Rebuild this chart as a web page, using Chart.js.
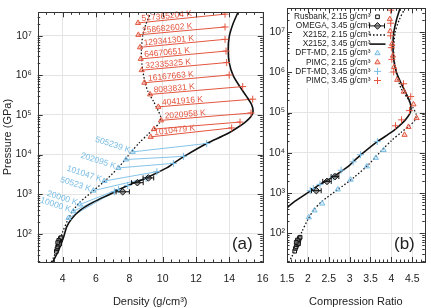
<!DOCTYPE html>
<html>
<head>
<meta charset="utf-8">
<script src="https://cdn.jsdelivr.net/npm/chart.js@4.4.0/dist/chart.umd.min.js"></script>
<style>
  html, body { margin: 0; padding: 0; background: #fff; }
  #wrap { position: relative; width: 431px; height: 308px; }
  canvas { position: absolute; left: 0; top: 0; }
</style>
</head>
<body>
<div id="wrap">
  <canvas id="chartA" width="431" height="308"></canvas>
  <canvas id="chartB" width="431" height="308"></canvas>
</div>
<script>
const RED = '#e4563f';
const BLUE = '#78bde6';
const INK = '#222';
const GRID = '#e4e4e4';

// --- axis ticks ---
const densityTicks = [4, 6, 8, 10, 12, 14, 16];
const ratioTicks = [1.5, 2, 2.5, 3, 3.5, 4, 4.5];
const pressureTicks = [1e2, 1e3, 1e4, 1e5, 1e6, 1e7];
const P_MIN = 19.4, P_MAX = 3.9e7;

// --- X2152 model, initial density 2.15 g/cm3 (density, pressure GPa) ---
const x2152LowRho = [9.3, 9.0, 8.8, 8.72, 8.76, 8.9, 9.1, 9.45, 9.72, 9.88, 9.8, 9.5, 9.1, 8.6, 8.1, 7.44, 6.7, 5.85, 5.04, 4.6, 4.3, 4.0, 3.8, 3.64, 3.45, 3.3];
const x2152LowP = [3.9e7, 2.0e7, 1.0e7, 4.0e6, 1.8e6, 7.9e5, 4.0e5, 2.2e5, 1.3e5, 8.9e4, 6.3e4, 4.6e4, 3.2e4, 2.0e4, 1.15e4, 5200, 2500, 1230, 630, 380, 220, 112, 63, 40, 25, 19];

// --- X2152 model, initial density 3.45 g/cm3 ---
const x2152HighRho = [14.52, 14.22, 13.99, 13.93, 13.99, 14.23, 14.64, 15.04, 15.34, 15.42, 15.3, 14.94, 14.52, 13.84, 12.64, 11.44, 10.64, 10.24, 9.04, 7.84, 6.84, 5.84, 5.04, 4.54, 4.24, 4.04, 3.74, 3.44, 3.4];
const x2152HighP = [3.9e7, 2.0e7, 9.4e6, 4.5e6, 2.1e6, 9.8e5, 5.1e5, 2.9e5, 1.8e5, 1.23e5, 9.1e4, 6.5e4, 4.9e4, 3.3e4, 1.9e4, 9800, 6000, 4600, 2600, 1600, 1000, 630, 390, 240, 150, 79, 37, 21, 19];

// --- Rusbank, 2.15 g/cm3 ---
const rusbankRho = [3.62, 3.66, 3.70, 3.74, 3.78, 3.80, 3.84, 3.86, 3.90, 3.76, 3.82, 3.70];
const rusbankP = [36, 42, 47, 52, 58, 64, 70, 76, 80, 68, 55, 60];

// --- OMEGA, 3.45 g/cm3 ---
const omegaRho = [7.6, 8.48, 9.14];
const omegaErr = [0.4, 0.35, 0.32];
const omegaP = [1150, 1950, 2570];

// --- PIMC (2.15 -> 3.45 pairs at the same temperature) ---
const pimcTemps = ['517365204 K', '258682602 K', '129341301 K', '64670651 K', '32335325 K', '16167663 K', '8083831 K', '4041916 K', '2020958 K', '', '1010479 K'];
const pimcLowRho = [8.52, 8.54, 8.64, 8.68, 8.74, 8.9, 9.24, 9.74, 9.9, 9.48, 9.28];
const pimcLowP = [2.1e7, 1.05e7, 5.1e6, 2.6e6, 1.35e6, 6.5e5, 3.3e5, 1.6e5, 7.3e4, 4.4e4, 2.8e4];
const pimcHighRho = [13.74, 13.74, 13.74, 13.8, 13.84, 13.99, 14.8, 15.4, 15.3, 14.64, 14.14];
const pimcHighP = [3.5e7, 1.66e7, 8.1e6, 4.1e6, 2.1e6, 1.02e6, 5.2e5, 2.5e5, 1.12e5, 6.6e4, 4.7e4];

// --- DFT-MD (2.15 -> 3.45 pairs) ---
const dftTemps = ['', '10000 K', '20000 K', '50523 K', '101047 K', '202095 K', '', '505239 K'];
const dftLowRho = [4.35, 4.64, 5.04, 5.84, 6.5, 7.34, 7.8, 8.2];
const dftLowP = [250, 370, 550, 1230, 2150, 4600, 7500, 11700];
const dftHighRho = [7.1, 7.35, 7.9, 9.0, 9.65, 10.64, 11.25, 12.64];
const dftHighP = [1150, 1300, 1650, 2500, 3700, 6000, 9000, 19000];

const legendOrder = ['Rusbank, 2.15 g/cm³', 'OMEGA, 3.45 g/cm³', 'X2152, 2.15 g/cm³', 'X2152, 3.45 g/cm³',
                     'DFT-MD, 2.15 g/cm³', 'PIMC, 2.15 g/cm³', 'DFT-MD, 3.45 g/cm³', 'PIMC, 3.45 g/cm³'];

const SUP = { 2: '²', 3: '³', 4: '⁴', 5: '⁵', 6: '⁶', 7: '⁷' };

Chart.defaults.font.family = '"Liberation Sans", Arial, sans-serif';
Chart.defaults.color = INK;

// density -> compression ratio when k is the initial density
const pts = (xs, ys, k = 1) => xs.map((v, i) => ({ x: v / k, y: ys[i] }));

function buildDatasets(k215, k345, withLinks) {
  const ds = [];
  ds.push({ label: 'X2152, 2.15 g/cm³', data: pts(x2152LowRho, x2152LowP, k215), showLine: true, pointRadius: 0,
            borderColor: '#111', borderWidth: 1.3, borderDash: [1.5, 2], tension: 0.25, clip: 0, order: 5 });
  ds.push({ label: 'X2152, 3.45 g/cm³', data: pts(x2152HighRho, x2152HighP, k345), showLine: true, pointRadius: 0,
            borderColor: '#111', borderWidth: 1.6, tension: 0.25, clip: 0, order: 5 });
  if (withLinks) {
    pimcTemps.forEach((t, i) => ds.push({
      data: [{ x: pimcLowRho[i], y: pimcLowP[i] }, { x: pimcHighRho[i], y: pimcHighP[i] }],
      showLine: true, pointRadius: 0, borderColor: RED, borderWidth: 1, order: 6 }));
    dftTemps.forEach((t, i) => ds.push({
      data: [{ x: dftLowRho[i], y: dftLowP[i] }, { x: dftHighRho[i], y: dftHighP[i] }],
      showLine: true, pointRadius: 0, borderColor: BLUE, borderWidth: 0.9, order: 6 }));
  }
  ds.push({ label: 'Rusbank, 2.15 g/cm³', data: pts(rusbankRho, rusbankP, k215), pointStyle: 'rect', pointRadius: 2.6,
            borderColor: '#111', backgroundColor: 'rgba(255,255,255,0.3)', borderWidth: 1, order: 1 });
  ds.push({ label: 'OMEGA, 3.45 g/cm³', data: pts(omegaRho, omegaP, k345), xErr: omegaErr.map(e => e / k345),
            pointStyle: 'rectRot', pointRadius: 3.3, borderColor: '#111', backgroundColor: 'rgba(80,80,80,0.55)', borderWidth: 1, order: 1 });
  ds.push({ label: 'DFT-MD, 2.15 g/cm³', data: pts(dftLowRho, dftLowP, k215), pointStyle: 'triangle', pointRadius: 3,
            borderColor: BLUE, backgroundColor: 'rgba(120,189,230,0.25)', borderWidth: 1, order: 2 });
  ds.push({ label: 'PIMC, 2.15 g/cm³', data: pts(pimcLowRho, pimcLowP, k215), pointStyle: 'triangle', pointRadius: 3,
            borderColor: RED, backgroundColor: 'rgba(228,86,63,0.25)', borderWidth: 1, order: 2 });
  ds.push({ label: 'DFT-MD, 3.45 g/cm³', data: pts(dftHighRho, dftHighP, k345), pointStyle: 'cross', pointRadius: 3.5,
            borderColor: BLUE, borderWidth: 1, order: 2 });
  ds.push({ label: 'PIMC, 3.45 g/cm³', data: pts(pimcHighRho, pimcHighP, k345), pointStyle: 'cross', pointRadius: 3.5,
            borderColor: RED, borderWidth: 1, order: 2 });
  return ds;
}

// frame with inward ticks on all four sides + panel tag
const framePlugin = {
  id: 'frame',
  afterDraw(chart, args, opts) {
    const { ctx, chartArea: a, scales: { x, y } } = chart;
    ctx.save();
    ctx.strokeStyle = '#333';
    ctx.lineWidth = 1;
    const seg = (x1, y1, x2, y2) => { ctx.beginPath(); ctx.moveTo(x1, y1); ctx.lineTo(x2, y2); ctx.stroke(); };
    const n = Math.round((x.max - x.min) / opts.xMinorStep);
    for (let i = 0; i <= n; i++) {
      const v = x.min + i * opts.xMinorStep;
      const major = opts.xMajor.some(m => Math.abs(m - v) < 1e-6);
      const len = major ? 5 : 2.5;
      const px = Math.round(x.getPixelForValue(v)) + 0.5;
      seg(px, a.bottom, px, a.bottom - len);
      seg(px, a.top, px, a.top + len);
    }
    for (let e = 1; e <= 7; e++) {
      for (let m = 1; m <= 9; m++) {
        const v = m * Math.pow(10, e);
        if (v < y.min || v > y.max) continue;
        const len = m === 1 ? 5 : 2.5;
        const py = Math.round(y.getPixelForValue(v)) + 0.5;
        seg(a.left, py, a.left + len, py);
        seg(a.right, py, a.right - len, py);
      }
    }
    ctx.strokeRect(Math.round(a.left) + 0.5, Math.round(a.top) + 0.5, Math.round(a.right - a.left), Math.round(a.bottom - a.top));
    ctx.fillStyle = INK;
    ctx.font = '17px "Liberation Sans", Arial, sans-serif';
    ctx.textAlign = 'right';
    ctx.textBaseline = 'alphabetic';
    ctx.fillText(opts.tag, a.right - 10, a.bottom - 13);
    ctx.restore();
  }
};

// horizontal error bars for datasets carrying xErr
const errorBarPlugin = {
  id: 'xerr',
  afterDatasetsDraw(chart) {
    const { ctx, scales: { x, y } } = chart;
    ctx.save();
    ctx.strokeStyle = '#111';
    ctx.lineWidth = 1;
    chart.data.datasets.forEach(ds => {
      if (!ds.xErr) return;
      ds.data.forEach((p, i) => {
        const x1 = x.getPixelForValue(p.x - ds.xErr[i]), x2 = x.getPixelForValue(p.x + ds.xErr[i]);
        const py = y.getPixelForValue(p.y);
        ctx.beginPath();
        ctx.moveTo(x1, py); ctx.lineTo(x2, py);
        ctx.moveTo(x1, py - 2.5); ctx.lineTo(x1, py + 2.5);
        ctx.moveTo(x2, py - 2.5); ctx.lineTo(x2, py + 2.5);
        ctx.stroke();
      });
    });
    ctx.restore();
  }
};

// temperature labels in panel (a)
const tempLabelPlugin = {
  id: 'temps',
  afterDatasetsDraw(chart) {
    const { ctx, scales: { x, y } } = chart;
    ctx.save();
    ctx.font = '8.5px "Liberation Sans", Arial, sans-serif';
    pimcTemps.forEach((t, i) => {
      if (!t) return;
      const x0 = x.getPixelForValue(pimcLowRho[i]), y0 = y.getPixelForValue(pimcLowP[i]);
      const x1 = x.getPixelForValue(pimcHighRho[i]), y1 = y.getPixelForValue(pimcHighP[i]);
      ctx.save();
      ctx.translate(x0, y0);
      ctx.rotate(Math.atan2(y1 - y0, x1 - x0));
      ctx.fillStyle = RED;
      ctx.textAlign = 'left';
      ctx.textBaseline = 'alphabetic';
      ctx.fillText(t, 4, -1.5);
      ctx.restore();
    });
    dftTemps.forEach((t, i) => {
      if (!t) return;
      const x0 = x.getPixelForValue(dftLowRho[i]), y0 = y.getPixelForValue(dftLowP[i]);
      ctx.save();
      ctx.translate(x0, y0);
      ctx.rotate(18 * Math.PI / 180);
      ctx.fillStyle = BLUE;
      ctx.textAlign = 'right';
      ctx.textBaseline = 'middle';
      ctx.fillText(t, -3, -0.5);
      ctx.restore();
    });
    ctx.restore();
  }
};

// legend box inside panel (b), text right-aligned with sample on the right
const legendPlugin = {
  id: 'bnLegend',
  beforeDatasetsDraw(chart) {
    const { ctx, chartArea: a } = chart;
    const H = Chart.helpers;
    ctx.save();
    ctx.fillStyle = '#fff';
    ctx.fillRect(a.left + 4, a.top + 2, 97, 78);
    ctx.font = '8.3px "Liberation Sans", Arial, sans-serif';
    ctx.textAlign = 'right';
    ctx.textBaseline = 'middle';
    legendOrder.forEach((label, i) => {
      const ds = chart.data.datasets.find(d => d.label === label);
      const ty = a.top + 8.5 + i * 9.1;
      const sx = a.left + 90.5;
      ctx.fillStyle = INK;
      ctx.fillText(label, a.left + 83.5, ty);
      ctx.strokeStyle = ds.borderColor;
      ctx.lineWidth = ds.borderWidth;
      if (ds.showLine) {
        ctx.setLineDash(ds.borderDash || []);
        ctx.beginPath(); ctx.moveTo(sx - 8, ty); ctx.lineTo(sx + 8, ty); ctx.stroke();
        ctx.setLineDash([]);
        return;
      }
      if (ds.xErr) {
        ctx.beginPath();
        ctx.moveTo(sx - 8, ty); ctx.lineTo(sx + 7, ty);
        ctx.moveTo(sx - 8, ty - 2.5); ctx.lineTo(sx - 8, ty + 2.5);
        ctx.moveTo(sx + 7, ty - 2.5); ctx.lineTo(sx + 7, ty + 2.5);
        ctx.stroke();
      }
      ctx.fillStyle = ds.backgroundColor || 'rgba(0,0,0,0)';
      H.drawPoint(ctx, { pointStyle: ds.pointStyle, radius: ds.pointRadius, rotation: 0, borderWidth: ds.borderWidth }, sx, ty);
    });
    ctx.restore();
  }
};

function makeChart(id, cfg) {
  return new Chart(document.getElementById(id), {
    type: 'scatter',
    data: { datasets: cfg.datasets },
    options: {
      responsive: false,
      animation: false,
      devicePixelRatio: 1,
      events: [],
      layout: { padding: cfg.padding },
      plugins: {
        legend: { display: false },
        tooltip: { enabled: false },
        frame: { xMajor: cfg.xTicks, xMinorStep: cfg.xMinorStep, tag: cfg.tag }
      },
      scales: {
        x: {
          type: 'linear', min: cfg.xMin, max: cfg.xMax,
          afterBuildTicks: s => { s.ticks = cfg.xTicks.map(v => ({ value: v })); },
          afterFit: s => { s.height = 46; },
          grid: { color: GRID, drawTicks: false },
          border: { display: false },
          ticks: { padding: 11, color: INK, font: { size: 10.5 }, maxRotation: 0, autoSkip: false, callback: v => String(v) },
          title: { display: true, text: cfg.xTitle, color: INK, font: { size: 11 }, padding: { top: 0, bottom: -1 } }
        },
        y: {
          type: 'logarithmic', min: P_MIN, max: P_MAX,
          afterBuildTicks: s => { s.ticks = pressureTicks.map(v => ({ value: v })); },
          afterFit: s => { s.width = cfg.yWidth; },
          grid: { color: GRID, drawTicks: false },
          border: { display: false },
          ticks: { padding: cfg.yPad, color: INK, font: { size: 10.5 }, autoSkip: false,
                   callback: v => '10' + SUP[Math.round(Math.log10(v))] },
          title: { display: !!cfg.yTitle, text: cfg.yTitle || '', color: INK, font: { size: 11 }, padding: { top: 1, bottom: 0 } }
        }
      }
    },
    plugins: cfg.plugins
  });
}

makeChart('chartA', {
  datasets: buildDatasets(1, 1, true),
  padding: { left: 0, right: 168.3, top: 5, bottom: 0 },
  xMin: 2.5, xMax: 16, xTicks: densityTicks, xMinorStep: 0.5,
  xTitle: 'Density (g/cm³)', yTitle: 'Pressure (GPa)', yWidth: 37.7, yPad: 6, tag: '(a)',
  plugins: [framePlugin, errorBarPlugin, tempLabelPlugin]
});

makeChart('chartB', {
  datasets: buildDatasets(2.15, 3.45, false),
  padding: { left: 267, right: 1, top: 5, bottom: 0 },
  xMin: 1.5, xMax: 4.8, xTicks: ratioTicks, xMinorStep: 0.1,
  xTitle: 'Compression Ratio', yTitle: '', yWidth: 20, yPad: 2, tag: '(b)',
  plugins: [legendPlugin, framePlugin, errorBarPlugin]
});
</script>
</body>
</html>
